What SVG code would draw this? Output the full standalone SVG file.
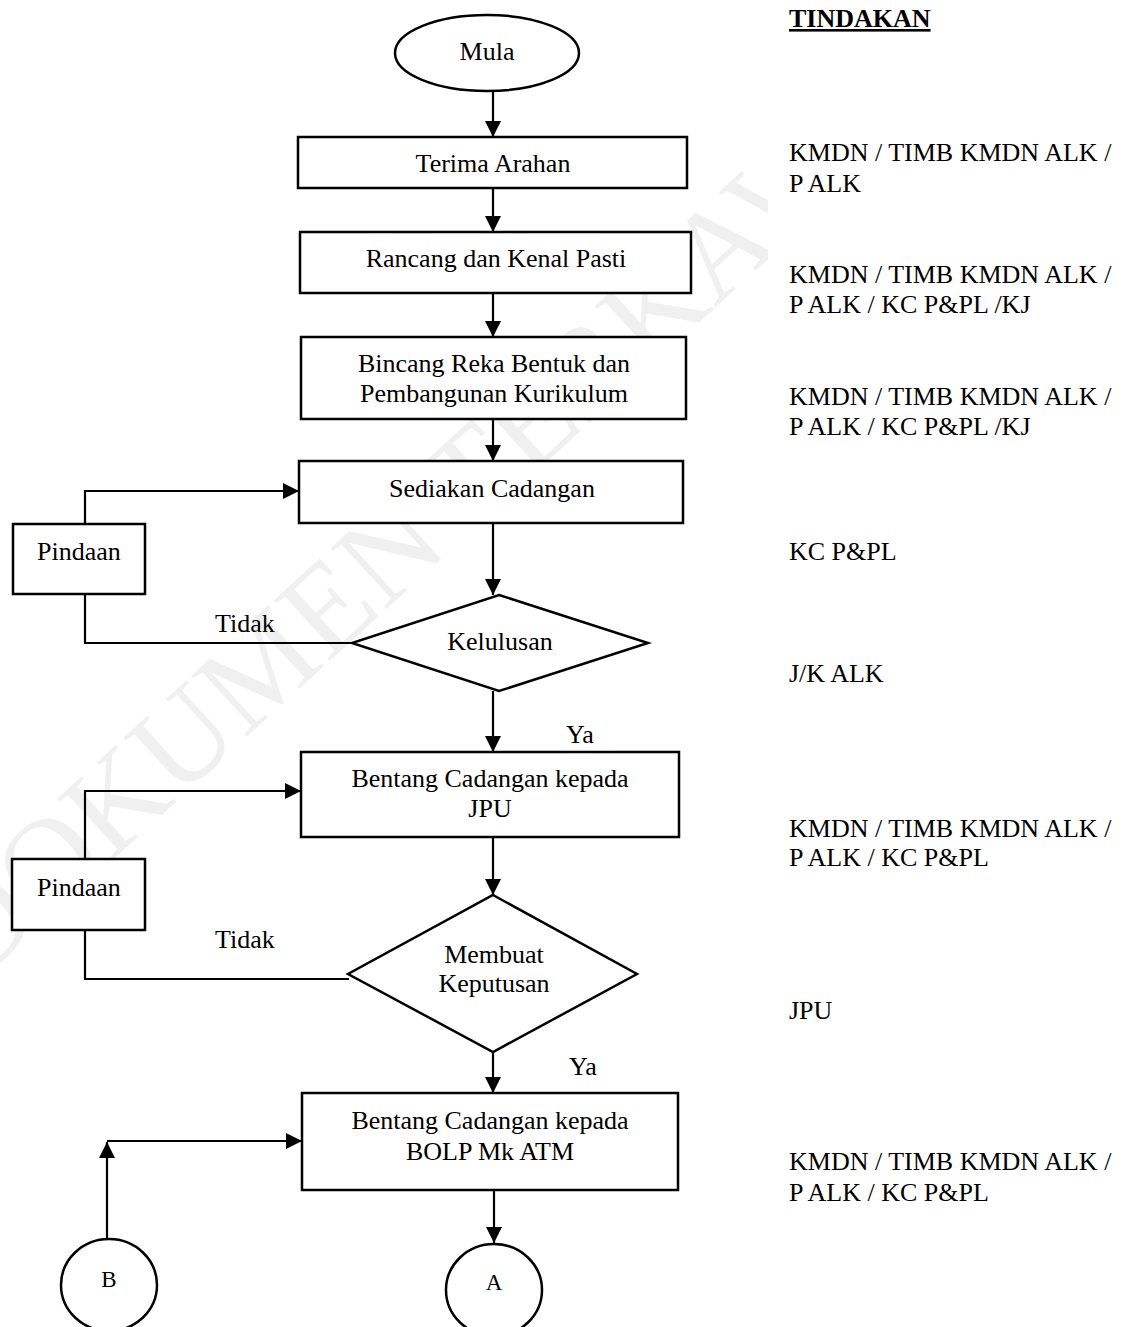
<svg xmlns="http://www.w3.org/2000/svg" width="1126" height="1327" viewBox="0 0 1126 1327">
  <defs>
    <marker id="arrow" markerUnits="userSpaceOnUse" markerWidth="16" markerHeight="16" viewBox="0 0 16 16" refX="16" refY="8" orient="auto">
      <path d="M0,0 L16,8 L0,16 Z" fill="#000"/>
    </marker>
    <style>
      .shape { fill: #fff; stroke: #000; stroke-width: 2.5; }
      .line { fill: none; stroke: #000; stroke-width: 2.2; }
      .lbl { font-family: "Liberation Serif", "Times New Roman", serif; font-size: 26px; fill: #000; }
      .mid { text-anchor: middle; }
      .head { font-weight: bold; text-decoration: underline; }
      .mark { font-family: "Liberation Serif", "Times New Roman", serif; font-size: 126px; fill: #f0f0f0; }
    </style>
  </defs>

  <rect width="1126" height="1327" fill="#fff"/>

  <!-- background watermark -->
  <text class="mark" x="-24" y="985" transform="rotate(-42.5 -24 985)">DOKUMEN TERKAWAL</text>
  <rect x="768" y="0" width="358" height="1327" fill="#fff"/>

  <!-- connectors -->
  <g id="connectors">
    <line class="line" x1="493" y1="92" x2="493" y2="137" marker-end="url(#arrow)"/>
    <line class="line" x1="493" y1="188" x2="493" y2="232" marker-end="url(#arrow)"/>
    <line class="line" x1="493" y1="293" x2="493" y2="337" marker-end="url(#arrow)"/>
    <line class="line" x1="493" y1="419" x2="493" y2="461" marker-end="url(#arrow)"/>
    <line class="line" x1="493" y1="523" x2="493" y2="595" marker-end="url(#arrow)"/>
    <line class="line" x1="493" y1="691" x2="493" y2="752" marker-end="url(#arrow)"/>
    <line class="line" x1="493" y1="837" x2="493" y2="895" marker-end="url(#arrow)"/>
    <line class="line" x1="493" y1="1052" x2="493" y2="1093" marker-end="url(#arrow)"/>
    <line class="line" x1="494" y1="1190" x2="494" y2="1243" marker-end="url(#arrow)"/>
    <!-- rejection loops -->
    <path class="line" d="M352,643 H85 V594"/>
    <path class="line" d="M85,524 V491 H299" marker-end="url(#arrow)"/>
    <path class="line" d="M349,979 H85 V930"/>
    <path class="line" d="M85,859 V791 H301" marker-end="url(#arrow)"/>
    <!-- connector B -->
    <line class="line" x1="107" y1="1240" x2="107" y2="1142" marker-end="url(#arrow)"/>
    <line class="line" x1="107" y1="1141" x2="302" y2="1141" marker-end="url(#arrow)"/>
    <text class="lbl" x="215" y="632">Tidak</text>
    <text class="lbl" x="215" y="948">Tidak</text>
    <text class="lbl" x="566" y="743">Ya</text>
    <text class="lbl" x="569" y="1075">Ya</text>
  </g>

  <g id="mula">
    <ellipse class="shape" cx="487" cy="53" rx="92" ry="38"/>
    <text class="lbl mid" x="487" y="60">Mula</text>
  </g>
  <g id="terima-arahan">
    <rect class="shape" x="298" y="137" width="389" height="51"/>
    <text class="lbl mid" x="493" y="172">Terima Arahan</text>
  </g>
  <g id="rancang">
    <rect class="shape" x="300" y="232" width="391" height="61"/>
    <text class="lbl mid" x="496" y="267">Rancang dan Kenal Pasti</text>
  </g>
  <g id="bincang">
    <rect class="shape" x="301" y="337" width="385" height="82"/>
    <text class="lbl mid" x="494" y="372">Bincang Reka Bentuk dan</text>
    <text class="lbl mid" x="494" y="402">Pembangunan Kurikulum</text>
  </g>
  <g id="sediakan">
    <rect class="shape" x="299" y="461" width="384" height="62"/>
    <text class="lbl mid" x="492" y="497">Sediakan Cadangan</text>
  </g>
  <g id="pindaan-1">
    <rect class="shape" x="13" y="524" width="132" height="70"/>
    <text class="lbl mid" x="79" y="560">Pindaan</text>
  </g>
  <g id="kelulusan">
    <polygon class="shape" points="499,595 648,643 499,691 352,643"/>
    <text class="lbl mid" x="500" y="650">Kelulusan</text>
  </g>
  <g id="bentang-jpu">
    <rect class="shape" x="301" y="752" width="378" height="85"/>
    <text class="lbl mid" x="490" y="787">Bentang Cadangan kepada</text>
    <text class="lbl mid" x="490" y="817">JPU</text>
  </g>
  <g id="pindaan-2">
    <rect class="shape" x="12" y="859" width="133" height="71"/>
    <text class="lbl mid" x="79" y="896">Pindaan</text>
  </g>
  <g id="keputusan">
    <polygon class="shape" points="493,895 637,974 493,1052 348,974"/>
    <text class="lbl mid" x="494" y="963">Membuat</text>
    <text class="lbl mid" x="494" y="992">Keputusan</text>
  </g>
  <g id="bentang-bolp">
    <rect class="shape" x="302" y="1093" width="376" height="97"/>
    <text class="lbl mid" x="490" y="1129">Bentang Cadangan kepada</text>
    <text class="lbl mid" x="490" y="1160">BOLP Mk ATM</text>
  </g>
  <g id="connector-b">
    <ellipse class="shape" cx="109" cy="1285" rx="48" ry="46"/>
    <text class="lbl mid" x="109" y="1287" style="font-size:23px">B</text>
  </g>
  <g id="connector-a">
    <ellipse class="shape" cx="494" cy="1290" rx="48" ry="46"/>
    <text class="lbl mid" x="494" y="1290" style="font-size:23px">A</text>
  </g>

  <!-- responsibility column -->
  <g id="tindakan">
    <text class="lbl head" x="789" y="27">TINDAKAN</text>
    <text class="lbl" x="789" y="161">KMDN / TIMB KMDN ALK /</text>
    <text class="lbl" x="789" y="192">P ALK</text>
    <text class="lbl" x="789" y="283">KMDN / TIMB KMDN ALK /</text>
    <text class="lbl" x="789" y="313">P ALK / KC P&amp;PL /KJ</text>
    <text class="lbl" x="789" y="405">KMDN / TIMB KMDN ALK /</text>
    <text class="lbl" x="789" y="435">P ALK / KC P&amp;PL /KJ</text>
    <text class="lbl" x="789" y="560">KC P&amp;PL</text>
    <text class="lbl" x="789" y="682">J/K ALK</text>
    <text class="lbl" x="789" y="837">KMDN / TIMB KMDN ALK /</text>
    <text class="lbl" x="789" y="866">P ALK / KC P&amp;PL</text>
    <text class="lbl" x="789" y="1019">JPU</text>
    <text class="lbl" x="789" y="1170">KMDN / TIMB KMDN ALK /</text>
    <text class="lbl" x="789" y="1201">P ALK / KC P&amp;PL</text>
  </g>
</svg>
